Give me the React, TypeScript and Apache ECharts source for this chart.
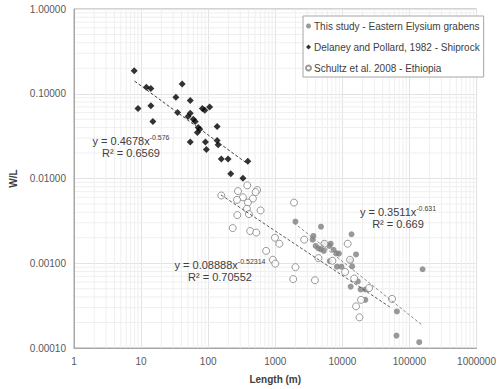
import React, { useEffect, useRef } from "react";
import * as echarts from "echarts";

// Length (m), W/L
const thisStudy: [number, number][] = [
  [2000, 0.0031], [4800, 0.0027], [13700, 0.0022], [3700, 0.0021], [3600, 0.0019],
  [4000, 0.0016], [4800, 0.00146], [5300, 0.0017], [5300, 0.0014], [6400, 0.0016],
  [6700, 0.0017], [7400, 0.00144], [8900, 0.0013], [8200, 0.00131], [16000, 0.00127],
  [13300, 0.00108], [6500, 0.00106], [8300, 0.00091], [9700, 0.00091], [14000, 0.00092],
  [17000, 0.00061], [13300, 0.00053], [18700, 0.00049], [22000, 0.00049], [22000, 0.00037],
  [65000, 0.00027], [157000, 0.00085], [64000, 0.00014], [140000, 0.000117], [4400, 0.0015],
];

const delaney: [number, number][] = [
  [7.9, 0.187], [12, 0.119], [14, 0.115], [41, 0.13], [9, 0.067], [14, 0.072],
  [15, 0.047], [33, 0.091], [54, 0.083], [35, 0.06], [82, 0.067], [89, 0.064],
  [105, 0.07], [54, 0.059], [50, 0.054], [60, 0.05], [64, 0.047], [71, 0.04],
  [75, 0.038], [69, 0.035], [136, 0.041], [54, 0.027], [91, 0.027], [94, 0.022],
  [136, 0.028], [141, 0.025], [157, 0.017], [198, 0.017], [390, 0.016], [217, 0.0114],
  [330, 0.0101],
];

const schultz: [number, number][] = [
  [157, 0.0063], [278, 0.0071], [382, 0.0083], [537, 0.0073], [509, 0.0069],
  [330, 0.006], [269, 0.0056], [464, 0.0058], [391, 0.0052], [378, 0.0044],
  [272, 0.0037], [405, 0.0038], [604, 0.0042], [232, 0.0026], [423, 0.0024],
  [520, 0.0023], [990, 0.002], [1150, 0.0017], [730, 0.0014], [1900, 0.0052],
  [2700, 0.0019], [920, 0.0011], [1000, 0.00099], [2000, 0.0009], [1850, 0.00065],
  [3900, 0.00063], [4400, 0.00115], [5400, 0.0017], [12000, 0.0017], [13000, 0.0011],
  [7100, 0.00107], [15000, 0.00066], [25000, 0.00051], [19000, 0.00037], [16000, 0.00031],
  [18000, 0.00023], [55000, 0.00038], [11000, 0.00079],
];

// Power-law trend lines (straight on log-log), end points
const trendThisStudy: [number, number][] = [[1900, 0.003], [150000, 0.00019]];
const trendDelaney: [number, number][] = [[8, 0.141], [390, 0.0148]];
const trendSchultz: [number, number][] = [[155, 0.0064], [51000, 0.000305]];

const seriesNames = [
  "This study - Eastern Elysium grabens",
  "Delaney and Pollard, 1982 - Shiprock",
  "Schultz et al. 2008 - Ethiopia",
];

const equations = [
  { base: "y = 0.4678x", exp: "-0.576", r2: "R² = 0.6569" },
  { base: "y = 0.08888x", exp: "-0.52314", r2: "R² = 0.70552" },
  { base: "y = 0.3511x", exp: "-0.631", r2: "R² = 0.669" },
];

const xMin = 1, xMax = 1000000, yMin = 0.0001, yMax = 1;

// minor grid positions (2..9 within each decade)
const minorGrid: [number, number, number][] = [];
for (let d = 1; d < xMax; d *= 10) for (let k = 2; k <= 9; k++) minorGrid.push([d * k, 1, 0]);
for (let d = yMin; d < yMax * 0.99; d *= 10) for (let k = 2; k <= 9; k++) minorGrid.push([1, d * k, 1]);

const FONT = "Liberation Sans, Arial, sans-serif";

export default function App() {
  const ref = useRef<HTMLDivElement>(null);
  useEffect(() => {
    const chart = echarts.init(ref.current!, null, { renderer: "svg" });
    const eqText = (i: number, cx: number, cy: number) => [
      {
        type: "text",
        x: cx,
        y: cy,
        style: {
          text: `{a|${equations[i].base}}{b|${equations[i].exp}}`,
          align: "center",
          verticalAlign: "middle",
          rich: {
            a: { fontSize: 11, fontFamily: FONT, fill: "#404040", lineHeight: 14 },
            b: { fontSize: 7, fontFamily: FONT, fill: "#404040", lineHeight: 14, verticalAlign: "top" },
          },
        },
        z: 100,
      },
      {
        type: "text",
        x: cx,
        y: cy + 12,
        style: {
          text: equations[i].r2,
          align: "center",
          verticalAlign: "middle",
          fontSize: 11,
          fontFamily: FONT,
          fill: "#404040",
        },
        z: 100,
      },
    ];
    chart.setOption({
      animation: false,
      backgroundColor: "#ffffff",
      textStyle: { fontFamily: FONT },
      grid: {
        left: 74, right: 19, top: 9, bottom: 40,
        show: true, borderColor: "#a6a6a6", borderWidth: 1,
      },
      legend: {
        orient: "vertical",
        left: 303,
        top: 16,
        padding: [4, 4, 3, 2],
        itemGap: 9,
        itemWidth: 5,
        itemHeight: 5,
        backgroundColor: "#ffffff",
        borderColor: "#a6a6a6",
        borderWidth: 1,
        borderRadius: 0,
        data: seriesNames,
        textStyle: { fontSize: 10, fontFamily: FONT, color: "#404040", lineHeight: 12, padding: [0, 0, 0, -2] },
      },
      xAxis: {
        type: "log",
        logBase: 10,
        min: xMin,
        max: xMax,
        splitNumber: 6,
        name: "Length (m)",
        nameLocation: "middle",
        nameGap: 26,
        nameTextStyle: { fontSize: 10, fontWeight: "bold", color: "#404040", fontFamily: FONT },
        axisLine: { show: true, lineStyle: { color: "#a6a6a6" } },
        axisTick: { show: false },
        axisLabel: {
          fontSize: 10, color: "#595959", margin: 8, fontFamily: FONT,
          formatter: (v: number) => String(Math.round(v)),
        },
        splitLine: { show: true, lineStyle: { color: "#e3e3e3", width: 1 } },
      },
      yAxis: {
        type: "log",
        logBase: 10,
        min: yMin,
        max: yMax,
        splitNumber: 4,
        name: "W/L",
        nameLocation: "middle",
        nameRotate: 90,
        nameGap: 48,
        nameTextStyle: { fontSize: 10, fontWeight: "bold", color: "#404040", fontFamily: FONT },
        axisLine: { show: true, lineStyle: { color: "#a6a6a6" } },
        axisTick: { show: false },
        axisLabel: {
          fontSize: 10, color: "#595959", margin: 8, fontFamily: FONT,
          formatter: (v: number) => v.toFixed(5),
        },
        splitLine: { show: true, lineStyle: { color: "#e3e3e3", width: 1 } },
      },
      series: [
        {
          type: "custom",
          silent: true,
          z: 0,
          data: minorGrid,
          renderItem: (params: any, api: any) => {
            const cs = params.coordSys;
            if (api.value(2) === 0) {
              const p = api.coord([api.value(0), 1]);
              return { type: "line", shape: { x1: p[0], y1: cs.y, x2: p[0], y2: cs.y + cs.height }, style: { stroke: "#efefef", lineWidth: 1 } };
            }
            const p = api.coord([1, api.value(1)]);
            return { type: "line", shape: { x1: cs.x, y1: p[1], x2: cs.x + cs.width, y2: p[1] }, style: { stroke: "#efefef", lineWidth: 1 } };
          },
        },
        {
          name: seriesNames[0],
          type: "scatter",
          symbol: "circle",
          symbolSize: 6,
          data: thisStudy,
          itemStyle: { color: "#808080" },
          z: 3,
        },
        {
          name: seriesNames[1],
          type: "scatter",
          symbol: "diamond",
          symbolSize: 7,
          data: delaney,
          itemStyle: { color: "#000000" },
          z: 3,
        },
        {
          name: seriesNames[2],
          type: "scatter",
          symbol: "circle",
          symbolSize: 7,
          data: schultz,
          itemStyle: { color: "#ffffff", borderColor: "#808080", borderWidth: 1 },
          z: 4,
        },
        {
          type: "line", data: trendDelaney, symbol: "none", silent: true, z: 5,
          lineStyle: { color: "#404040", width: 1, type: [3, 2] },
        },
        {
          type: "line", data: trendSchultz, symbol: "none", silent: true, z: 5,
          lineStyle: { color: "#595959", width: 1, type: [3, 2] },
        },
        {
          type: "line", data: trendThisStudy, symbol: "none", silent: true, z: 5,
          lineStyle: { color: "#8c8c8c", width: 1, type: [3, 2] },
        },
      ],
      graphic: [...eqText(0, 131, 141), ...eqText(1, 220, 265), ...eqText(2, 398, 212)],
    });
    return () => chart.dispose();
  }, []);
  return <div ref={ref} style={{ position: "absolute", left: 0, top: 0, width: 499, height: 389 }} />;
}
